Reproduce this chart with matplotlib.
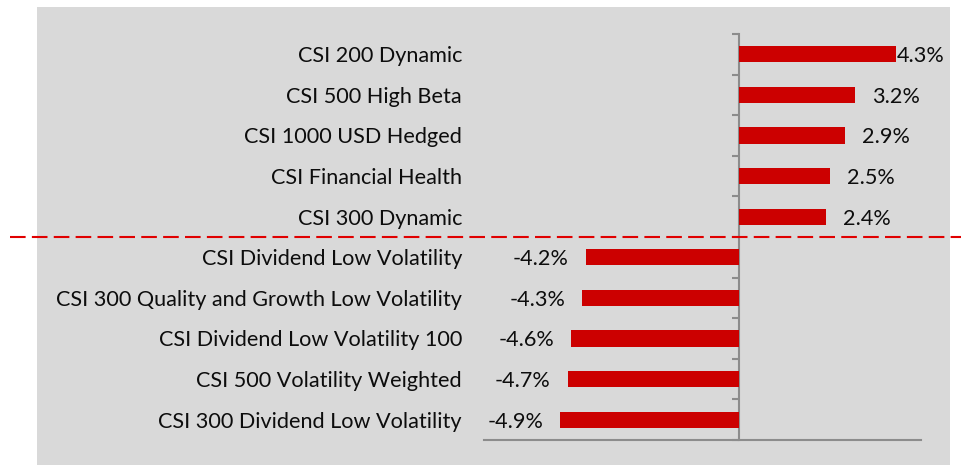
import numpy as np
import matplotlib; matplotlib.use('Agg')
import matplotlib.pyplot as plt
from matplotlib.patches import Rectangle
from matplotlib.lines import Line2D
import matplotlib.transforms as mtrans

names = ['CSI 200 Dynamic', 'CSI 500 High Beta', 'CSI 1000 USD Hedged', 'CSI Financial Health',
         'CSI 300 Dynamic', 'CSI Dividend Low Volatility', 'CSI 300 Quality and Growth Low Volatility',
         'CSI Dividend Low Volatility 100', 'CSI 500 Volatility Weighted', 'CSI 300 Dividend Low Volatility']
values = [4.3, 3.2, 2.9, 2.5, 2.4, -4.2, -4.3, -4.6, -4.7, -4.9]
labels = ['4.3%', '3.2%', '2.9%', '2.5%', '2.4%', '-4.2%', '-4.3%', '-4.6%', '-4.7%', '-4.9%']

plt.rcParams['font.family'] = ['Lato', 'DejaVu Sans']
fig = plt.figure(figsize=(9.62, 4.65), dpi=100)
fig.add_artist(Rectangle((37/962, 0), (950-37)/962, 1-7/465, transform=fig.transFigure,
                         facecolor='#d9d9d9', edgecolor='none', zorder=-10))
ax = fig.add_axes([484/962, 25/465, (921-484)/962, (441-35)/465])
ax.set_zorder(2)
ax.set_facecolor('none')
y = np.arange(len(values))
ax.barh(y, values, height=0.4, color='#cc0000', zorder=3)
ax.set_xlim(-7, 5)
ax.set_ylim(len(values)-0.5, -0.5)

for s in ['top', 'right']:
    ax.spines[s].set_visible(False)
ax.spines['left'].set_position(('data', 0))
for s in ['left', 'bottom']:
    ax.spines[s].set_color('#8c8c8c'); ax.spines[s].set_linewidth(1.5)
ax.set_xticks([])
ax.set_yticks(y); ax.set_yticklabels([])
ax.tick_params(axis='y', which='major', length=0)
ax.set_yticks(np.arange(-0.5, len(values)), minor=True)
ax.tick_params(axis='y', which='minor', length=5, width=1.5, color='#8c8c8c', direction='out')

for yi, n in zip(y, names):
    ax.annotate(n, xy=(0, yi), xycoords=('axes fraction', 'data'), xytext=(-22, -2),
                textcoords='offset pixels', ha='right', va='center', fontsize=15.6, color='#0d0d0d')
for yi, v, t in zip(y, values, labels):
    off = 1 if yi == 0 else 17
    ax.annotate(t, xy=(v, yi), xytext=(off if v > 0 else -off, -2), textcoords='offset pixels',
                ha='left' if v > 0 else 'right', va='center', fontsize=15.6, color='#0d0d0d')

tr = mtrans.blended_transform_factory(fig.transFigure, ax.transData)
fig.add_artist(Line2D([10/962, 1], [4.5, 4.5], transform=tr, color='#e00000', lw=1.5,
                      dashes=(7.5, 3), zorder=5))
fig.savefig('out.png', dpi=100)
